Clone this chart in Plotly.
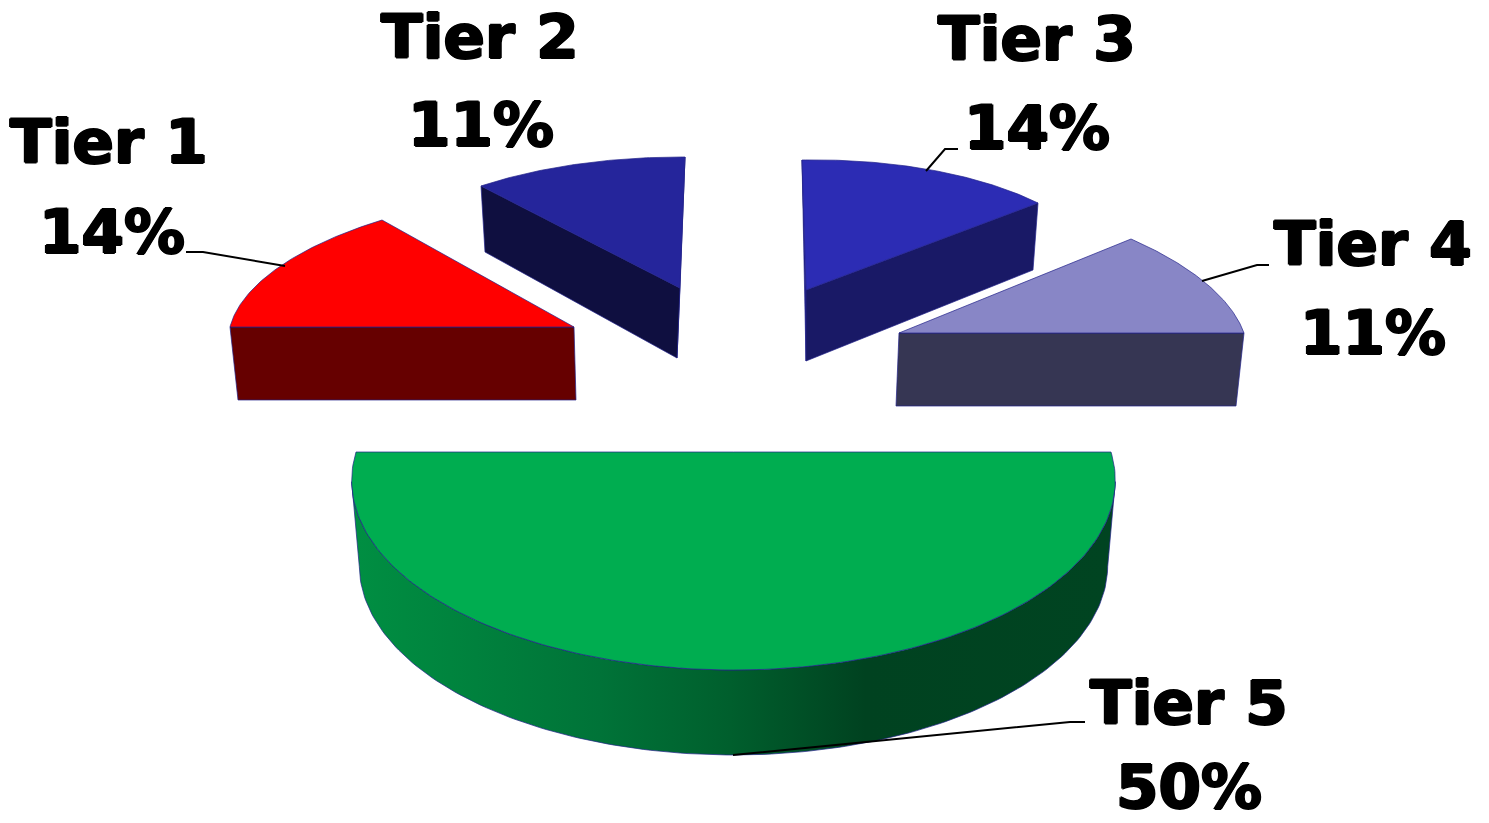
import math
import plotly.graph_objects as go

# ---- data ----
TIERS = ["Tier 1", "Tier 2", "Tier 3", "Tier 4", "Tier 5"]
SHARES = [14, 11, 14, 11, 50]

# ---- styles ----
TOP_COLORS = ["#FF0000", "#25259B", "#2C2CB4", "#8886C6", "#00AD50"]
WALL_COLORS = ["#660000", "#0F0F40", "#191966", "#363653"]
SLIVER_COLORS = [None, "#2A2AA0", "#1E1E80", None]
EDGE = "#22228A"
FONT = dict(family="DejaVu Sans", size=61, color="black",
            shadow="1.2px 0 0 #000,-1.2px 0 0 #000,0 1px 0 #000,0 -1px 0 #000")

# ---- placement of each exploded slice on the 1489x823 canvas ----
# apex, arc start, reference arc point, fraction of the sweep at that reference
FRAMES = [
    dict(apex=(574, 327), start=(230, 327), ref=(382, 220), frac=1.0, k=0.0),
    dict(apex=(680, 288), start=(481, 186), ref=(685, 157), frac=1.0, k=0.0),
    dict(apex=(806, 290), start=(802, 160), ref=(1038, 203), frac=1.0, k=0.0),
    dict(apex=(899, 333), start=(1131, 239), ref=(1244, 333), frac=1.0, k=0.0),
    dict(apex=(733.5, 452), start=(1111, 452), ref=(733.5, 670), frac=0.5, k=0.15),
]
WALLS = [
    [(230, 327), (574, 327), (576, 400), (238, 400)],
    [(481, 186), (680, 288), (677, 358), (485, 252)],
    [(806, 290), (1038, 203), (1033, 270), (806, 361)],
    [(899, 333), (1244, 333), (1236, 406), (896, 406)],
]
SLIVERS = [None, [(685, 157), (680, 288), (677, 358)], [(802, 160), (806, 290), (806, 361)], None]
RIM_DEPTH = 85
RIM_SCALE = 0.98
RIM_LEFT, RIM_RIGHT = 352, 1115
RIM_STOPS = [(358, "rgb(0,142,66)"), (450, "rgb(0,132,62)"), (600, "rgb(0,115,56)"),
             (730, "rgb(0,95,45)"), (865, "rgb(0,66,32)"), (1110, "rgb(0,68,33)")]

LABELS = [
    ((109, 141), (112, 231)),
    ((480, 36), (481, 124)),
    ((1037, 38), (1037, 127)),
    ((1373, 243), (1373, 332)),
    ((1189, 702), (1189, 786)),
]
LEADERS = [
    [(186, 252), (203, 252), (285, 266)],
    None,
    [(958, 149), (945, 149), (926, 171)],
    [(1269, 265), (1257, 265), (1202, 281)],
    [(1085, 722), (1070, 722), (733, 755)],
]


def arc_points(frame, share, n=80):
    sweep = 2 * math.pi * share / 100
    ax, ay = frame["apex"]
    ux, uy = frame["start"][0] - ax, frame["start"][1] - ay
    phi = sweep * frame["frac"]
    k = frame["k"]
    w = 1 - k * math.sin(phi)
    vx = ((frame["ref"][0] - ax) * w - math.cos(phi) * ux) / math.sin(phi)
    vy = ((frame["ref"][1] - ay) * w - math.cos(phi) * uy) / math.sin(phi)
    pts = []
    for i in range(n + 1):
        t = sweep * i / n
        c, s = math.cos(t), math.sin(t)
        d = 1 - k * s
        pts.append((ax + (c * ux + s * vx) / d, ay + (c * uy + s * vy) / d))
    return pts


def poly(points, fill, line=EDGE, width=0.7):
    xs = [p[0] for p in points] + [points[0][0]]
    ys = [p[1] for p in points] + [points[0][1]]
    return go.Scatter(x=xs, y=ys, mode="lines", fill="toself", fillcolor=fill,
                      line=dict(color=line, width=width), hoverinfo="skip", showlegend=False)


fig = go.Figure()

# big slice: rim between its widest points with a horizontal gradient, then the top face
big = arc_points(FRAMES[4], SHARES[4], 180)
ax5 = FRAMES[4]["apex"][0]
low = [(ax5 + (x - ax5) * RIM_SCALE, y + RIM_DEPTH) for x, y in big]
xs_big = [p[0] for p in big]
i_r, i_l = xs_big.index(max(xs_big)), xs_big.index(min(xs_big))
rim = big[i_r:i_l + 1] + low[i_r:i_l + 1][::-1] + [big[i_r]]
span = RIM_RIGHT - RIM_LEFT
scale = [[0, RIM_STOPS[0][1]]] + [[(x - RIM_LEFT) / span, c] for x, c in RIM_STOPS] + [[1, RIM_STOPS[-1][1]]]
fig.add_trace(go.Scatter(
    x=[p[0] for p in rim], y=[p[1] for p in rim], mode="lines", fill="toself",
    fillgradient=dict(type="horizontal", colorscale=scale, start=RIM_LEFT, stop=RIM_RIGHT),
    line=dict(color=EDGE, width=0.7), hoverinfo="skip", showlegend=False))
fig.add_trace(poly([FRAMES[4]["apex"]] + big, TOP_COLORS[4]))

# smaller slices
for i in range(4):
    if SLIVERS[i]:
        fig.add_trace(poly(SLIVERS[i], SLIVER_COLORS[i]))
    fig.add_trace(poly(WALLS[i], WALL_COLORS[i]))
    fig.add_trace(poly([FRAMES[i]["apex"]] + arc_points(FRAMES[i], SHARES[i]), TOP_COLORS[i]))

# leader lines
for seg in LEADERS:
    if seg:
        fig.add_trace(go.Scatter(x=[p[0] for p in seg], y=[p[1] for p in seg], mode="lines",
                                 line=dict(color="black", width=2), hoverinfo="skip",
                                 showlegend=False))

# labels
for name, share, (pos_name, pos_pct) in zip(TIERS, SHARES, LABELS):
    for text, (x, y) in ((name, pos_name), (f"{share}%", pos_pct)):
        fig.add_annotation(x=x, y=y, text=f"<b>{text}</b>", showarrow=False, font=FONT,
                           xanchor="center", yanchor="middle")

fig.update_layout(
    width=1489, height=823, margin=dict(l=0, r=0, t=0, b=0),
    paper_bgcolor="white", plot_bgcolor="white", showlegend=False,
    xaxis=dict(range=[0, 1489], visible=False, fixedrange=True),
    yaxis=dict(range=[823, 0], visible=False, fixedrange=True),
)
fig.write_html("out.html", config=dict(displayModeBar=False),
               post_script="document.body.style.margin='0';document.body.style.overflow='hidden';")
